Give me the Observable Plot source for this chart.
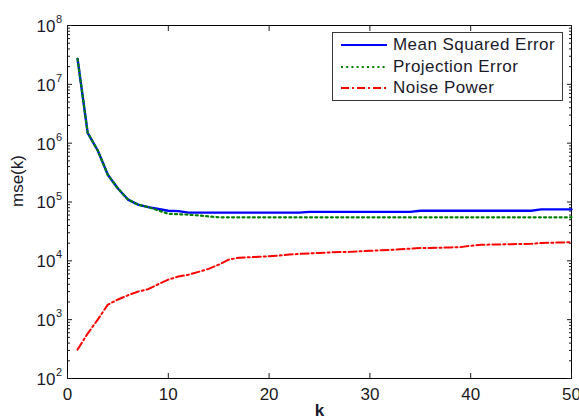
<!DOCTYPE html>
<html><head><meta charset="utf-8">
<script src="https://cdn.jsdelivr.net/npm/d3@7"></script>
<script src="https://cdn.jsdelivr.net/npm/@observablehq/plot@0.6"></script>
<style>
body{margin:0;background:#fff;}
#wrap{position:relative;width:579px;height:420px;font-family:"Liberation Sans",Arial,sans-serif;}
.legend{position:absolute;left:332px;top:32px;width:229px;height:67px;border:1px solid #3a3a3a;background:#fff;}
.row{position:absolute;left:0;height:20px;line-height:20px;font-size:17px;letter-spacing:0.45px;color:#1a1a2a;white-space:nowrap;}
.row svg{position:absolute;left:8px;top:0;}
.row span{position:absolute;left:60px;top:0;}
</style></head>
<body><div id="wrap"></div>
<script>
const k = d3.range(1, 51);
const seriesNames = ["Mean Squared Error", "Projection Error", "Noise Power"];
const mse = [2.7e7,1.5e6,7.5e5,2.9e5,1.7e5,1.1e5,9.0e4,8.2e4,7.6e4,7.1e4,
  7.0e4,6.6e4,6.6e4,6.6e4,6.6e4,6.6e4,6.6e4,6.6e4,6.6e4,6.6e4,
  6.6e4,6.6e4,6.6e4,6.8e4,6.8e4,6.8e4,6.8e4,6.8e4,6.8e4,6.8e4,
  6.8e4,6.8e4,6.8e4,6.8e4,7.1e4,7.1e4,7.1e4,7.1e4,7.1e4,7.1e4,
  7.1e4,7.1e4,7.1e4,7.1e4,7.1e4,7.1e4,7.5e4,7.5e4,7.5e4,7.5e4];
const projErr = [2.7e7,1.5e6,7.5e5,2.9e5,1.7e5,1.1e5,9.0e4,8.2e4,7.2e4,6.3e4,
  6.2e4,6.1e4,5.9e4,5.7e4,5.5e4,5.5e4,5.5e4,5.5e4,5.5e4,5.5e4,
  5.5e4,5.5e4,5.5e4,5.5e4,5.5e4,5.5e4,5.5e4,5.5e4,5.5e4,5.5e4,
  5.5e4,5.5e4,5.5e4,5.5e4,5.5e4,5.5e4,5.5e4,5.5e4,5.5e4,5.5e4,
  5.5e4,5.5e4,5.5e4,5.5e4,5.5e4,5.5e4,5.5e4,5.5e4,5.5e4,5.5e4];
const noise = [310,580,1000,1800,2200,2600,3000,3300,4000,4800,
  5400,5800,6500,7300,8600,10500,11300,11500,11700,12000,
  12300,12800,13100,13400,13600,13900,14100,14200,14500,14800,
  15100,15300,15700,16100,16500,16600,16700,16900,17100,18000,
  18700,18900,19000,19200,19300,19500,20100,20300,20500,20800];
const xTicks = [0, 10, 20, 30, 40, 50];
const yExponents = [2, 3, 4, 5, 6, 7, 8];
const yMajor = yExponents.map(e => Math.pow(10, e));
const yMinor = [];
for (const e of [2,3,4,5,6,7]) for (let m = 2; m <= 9; m++) yMinor.push(m * Math.pow(10, e));
const colors = ["#0000ff", "#008000", "#ff0000"];
const dashes = [null, "2,3.2", "8,3,2,3"];

const rows = k.map((kk, i) => ({k: kk, mse: mse[i], proj: projErr[i], noise: noise[i]}));

const plot = Plot.plot({
  width: 579, height: 420,
  marginLeft: 67, marginRight: 8, marginTop: 25, marginBottom: 42,
  style: {fontFamily: "Liberation Sans, Arial, sans-serif", background: "#fff", color: "#1a1a1a"},
  x: {domain: [0, 50], axis: null},
  y: {type: "log", domain: [1e2, 1e8], axis: null},
  marks: [
    Plot.frame({stroke: "#000", strokeWidth: 1}),
    Plot.axisX(xTicks, {anchor: "bottom", tickSize: -5, tickFormat: () => "", label: null}),
    Plot.axisX(xTicks, {anchor: "top", tickSize: -5, tickFormat: () => "", label: null}),
    Plot.axisX(xTicks, {anchor: "bottom", tickSize: 0, tickPadding: 9, fontSize: 17, label: null}),
    Plot.axisY(yMajor, {anchor: "left", tickSize: -5, tickFormat: () => "", label: null}),
    Plot.axisY(yMinor, {anchor: "left", tickSize: -3, tickFormat: () => "", label: null}),
    Plot.axisY(yMajor, {anchor: "right", tickSize: -5, tickFormat: () => "", label: null}),
    Plot.axisY(yMinor, {anchor: "right", tickSize: -3, tickFormat: () => "", label: null}),
    Plot.text(yMajor, {y: d => d, frameAnchor: "left", dx: -12, dy: 1, text: () => "10", textAnchor: "end", fontSize: 17, fill: "#1a1a2a"}),
    Plot.text(yExponents, {y: e => Math.pow(10, e), frameAnchor: "left", dx: -11.5, dy: -6, text: e => String(e), textAnchor: "start", fontSize: 11, fill: "#1a1a2a"}),
    Plot.text(["k"], {frameAnchor: "bottom", dy: 37, fontSize: 17, fontWeight: "bold", fill: "#1a1a2a"}),
    Plot.text(["mse(k)"], {frameAnchor: "left", dx: -50, dy: 5, rotate: -90, fontSize: 17, fill: "#1a1a2a"}),
    Plot.line(rows, {x: "k", y: "mse", stroke: colors[0], strokeWidth: 2.4}),
    Plot.line(rows, {x: "k", y: "proj", stroke: colors[1], strokeWidth: 2.2, strokeDasharray: dashes[1]}),
    Plot.line(rows, {x: "k", y: "noise", stroke: colors[2], strokeWidth: 2, strokeDasharray: dashes[2]})
  ]
});
const wrap = document.getElementById("wrap");
wrap.appendChild(plot);

const legend = document.createElement("div");
legend.className = "legend";
const centers = [12, 34, 55];
seriesNames.forEach((name, i) => {
  const row = document.createElement("div");
  row.className = "row";
  row.style.top = (centers[i] - 10) + "px";
  row.style.width = "229px";
  const dash = dashes[i] ? ` stroke-dasharray="${dashes[i]}"` : "";
  row.innerHTML = `<svg width="47" height="20"><line x1="0" x2="46" y1="10" y2="10" stroke="${colors[i]}" stroke-width="2"${dash}/></svg><span>${name}</span>`;
  legend.appendChild(row);
});
wrap.appendChild(legend);
</script>
</body></html>
